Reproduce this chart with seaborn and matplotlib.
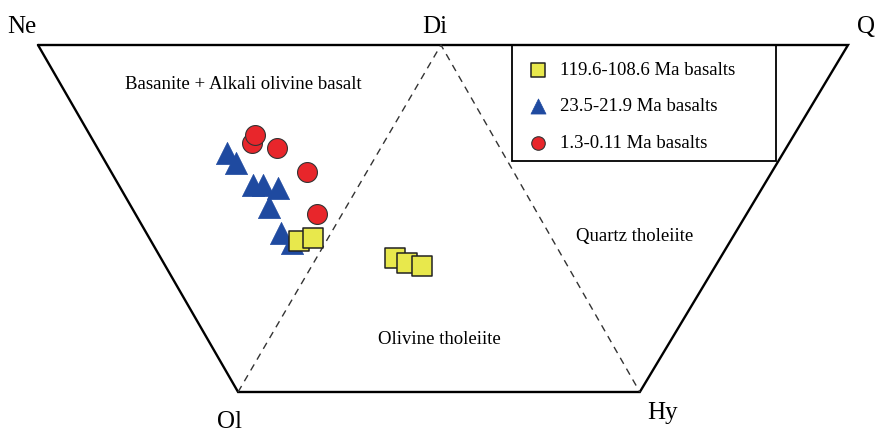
import matplotlib
matplotlib.use("Agg")
import matplotlib.pyplot as plt
from matplotlib.patches import Rectangle
import pandas as pd
import seaborn as sns

# Projection coordinates: horizontal position along Ne–Q (0..100),
# vertical height above the Ol–Hy base (0..100).
corner_names = ["Ne", "Di", "Q", "Ol", "Hy"]
corner_x = [0.0, 49.75, 100.0, 24.7, 74.3]
corner_y = [100.0, 100.0, 100.0, 0.0, 0.0]

group_labels = ["119.6-108.6 Ma basalts", "23.5-21.9 Ma basalts", "1.3-0.11 Ma basalts"]

cret_x = [32.22, 33.95, 44.07, 45.56, 47.41]
cret_y = [43.52, 44.38, 38.62, 37.18, 36.31]

mio_x = [23.33, 24.44, 26.54, 27.78, 29.63, 28.52, 30.00, 31.36]
mio_y = [68.88, 65.99, 59.65, 59.65, 58.79, 53.31, 45.82, 42.94]

qua_x = [26.42, 26.79, 29.51, 33.21, 34.44]
qua_y = [71.76, 74.06, 70.32, 63.40, 51.30]

field_names = ["Basanite + Alkali olivine basalt", "Quartz tholeiite", "Olivine tholeiite"]

sns.set_theme(style="white")
plt.rcParams["font.family"] = ["Liberation Serif", "DejaVu Serif"]
plt.rcParams["text.color"] = "black"

fig = plt.figure(figsize=(8.8, 4.32), dpi=100)
ax = fig.add_axes([0, 0, 1, 1])
ax.set_xlim(-4.69, 103.95)
ax.set_ylim(-11.53, 112.97)
ax.axis("off")

cx = dict(zip(corner_names, corner_x))
cy = dict(zip(corner_names, corner_y))

# Outer trapezoid Ne–Q–Hy–Ol
ax.plot([cx["Ne"], cx["Q"], cx["Hy"], cx["Ol"], cx["Ne"]],
        [cy["Ne"], cy["Q"], cy["Hy"], cy["Ol"], cy["Ne"]],
        color="black", lw=1.7, solid_joinstyle="miter", zorder=1)
# Dashed Di–Ol and Di–Hy joins
ax.plot([cx["Ol"], cx["Di"], cx["Hy"]], [cy["Ol"], cy["Di"], cy["Hy"]],
        color="#333333", lw=1.0, ls=(0, (5, 4)), zorder=1)

# Legend frame
ax.add_patch(Rectangle((58.5, 66.6), 91.1 - 58.5, 100 - 66.6, fill=False,
                       edgecolor="black", lw=1.3, zorder=2))

# Apex labels (baseline-anchored)
label_fs = 18
ax.text(-2.04, 103.46, "Ne", fontsize=label_fs, ha="center", va="baseline")
ax.text(49.01, 103.46, "Di", fontsize=label_fs, ha="center", va="baseline")
ax.text(102.2, 103.46, "Q", fontsize=label_fs, ha="center", va="baseline")
ax.text(23.64, -10.37, "Ol", fontsize=label_fs, ha="center", va="baseline")
ax.text(77.16, -7.78, "Hy", fontsize=label_fs, ha="center", va="baseline")

field_fs = 13.5
ax.text(25.4, 88.5, field_names[0], fontsize=field_fs, ha="center", va="center")
ax.text(73.7, 44.7, field_names[1], fontsize=field_fs, ha="center", va="center")
ax.text(49.6, 15.0, field_names[2], fontsize=field_fs, ha="center", va="center")

df_mio = pd.DataFrame({"x": mio_x, "y": mio_y})
df_cret = pd.DataFrame({"x": cret_x, "y": cret_y})
df_qua = pd.DataFrame({"x": qua_x, "y": qua_y})

sns.scatterplot(data=df_mio, x="x", y="y", ax=ax, marker="^", s=255,
                color="#1f4aa0", edgecolor="#1f4aa0", linewidth=0.5,
                label=group_labels[1], zorder=3)
sns.scatterplot(data=df_cret, x="x", y="y", ax=ax, marker="s", s=190,
                color="#e8e84c", edgecolor="#222222", linewidth=1.1,
                label=group_labels[0], zorder=4)
sns.scatterplot(data=df_qua, x="x", y="y", ax=ax, marker="o", s=205,
                color="#e8262b", edgecolor="#333333", linewidth=0.8,
                label=group_labels[2], zorder=4)

handles, labels = ax.get_legend_handles_labels()
order = [labels.index(l) for l in group_labels]
ax.legend([handles[i] for i in order], [labels[i] for i in order],
          loc="upper left", bbox_to_anchor=(528.6 / 880, 1 - 62 / 432),
          bbox_transform=fig.transFigure, frameon=False, fontsize=13.5,
          markerscale=0.68, handlelength=1.0, handletextpad=0.67,
          labelspacing=1.02, borderpad=0, borderaxespad=0)

ax.set_xlabel("")
ax.set_ylabel("")
fig.savefig("out.png", dpi=100)
